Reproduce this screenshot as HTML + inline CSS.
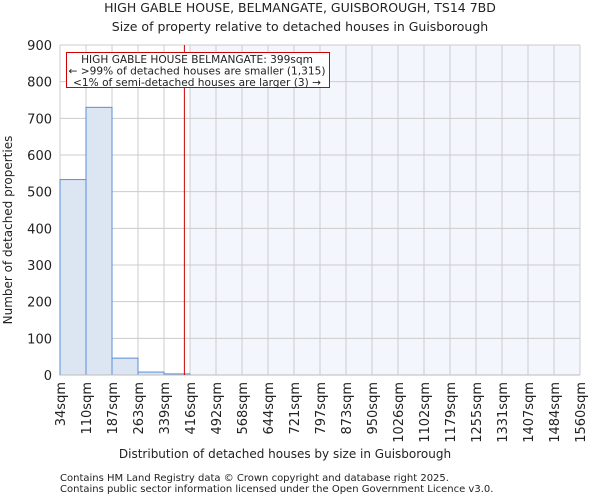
<!DOCTYPE html>
<html><head><meta charset="utf-8"><style>
body{margin:0;background:#fff;font-family:"DejaVu Sans","Liberation Sans",sans-serif;}
svg text{font-family:"DejaVu Sans","Liberation Sans",sans-serif;fill:#222;}
</style></head><body>
<svg id="chart" width="600" height="500">
<text x="300" y="12" font-size="12.5" text-anchor="middle">HIGH GABLE HOUSE, BELMANGATE, GUISBOROUGH, TS14 7BD</text>
<text x="300" y="31" font-size="12.5" text-anchor="middle">Size of property relative to detached houses in Guisborough</text>
<g id="plot"></g>
<text x="285" y="458" font-size="12" text-anchor="middle">Distribution of detached houses by size in Guisborough</text>
<text transform="translate(12,230) rotate(-90)" font-size="12" text-anchor="middle">Number of detached properties</text>
<text x="60" y="481" font-size="10">Contains HM Land Registry data © Crown copyright and database right 2025.</text>
<text x="60" y="492" font-size="10">Contains public sector information licensed under the Open Government Licence v3.0.</text>
</svg>
<script>
const binLabels=["34sqm","110sqm","187sqm","263sqm","339sqm","416sqm","492sqm","568sqm","644sqm","721sqm","797sqm","873sqm","950sqm","1026sqm","1102sqm","1179sqm","1255sqm","1331sqm","1407sqm","1484sqm","1560sqm"];
const counts=[533,730,46,8,3,0,0,0,0,0,0,0,0,0,0,0,0,0,0,0];
const yTicks=[0,100,200,300,400,500,600,700,800,900];
const propertySize=399;
const xMin=34,xMax=1560;
const L=60,R=580,T=45,B=375;
const nb=counts.length;
const xs=v=>L+(v-xMin)/(xMax-xMin)*(R-L);
const xi=i=>L+i*(R-L)/nb;
const ys=v=>B-v/900*(B-T);
const g=document.getElementById('plot');
const NS="http://www.w3.org/2000/svg";
function mk(t,a){const e=document.createElementNS(NS,t);for(const k in a)e.setAttribute(k,a[k]);g.appendChild(e);return e;}
const hb=Math.ceil((propertySize-xMin)/((xMax-xMin)/nb));
let e=mk('rect',{x:xi(hb),y:T,width:R-xi(hb),height:B-T,fill:'#f3f6fd'});


for(let i=0;i<=nb;i++){e=mk('line',{x1:xi(i),x2:xi(i),y1:T,y2:B,stroke:'#cccccc','stroke-width':1});

}
yTicks.forEach(v=>{e=mk('line',{x1:L,x2:R,y1:ys(v),y2:ys(v),stroke:'#cccccc','stroke-width':1});


e=mk('text',{x:L-8,y:ys(v)+5,'font-size':13,'text-anchor':'end'});e.textContent=v;

});
counts.forEach((c,i)=>{if(c<=0)return;e=mk('rect',{x:xi(i),y:ys(c),width:xi(i+1)-xi(i),height:B-ys(c),fill:'#dce6f3',stroke:'#5b8fd6','stroke-width':1});

});
e=mk('line',{x1:L,x2:R,y1:B,y2:B,stroke:'#bbbbbb','stroke-width':1});


binLabels.forEach((l,i)=>{const x=xi(i);e=mk('text',{transform:`translate(${x+5},382) rotate(-90)`,'font-size':13,'text-anchor':'end'});e.textContent=l;

});
const px=xs(propertySize);
e=mk('line',{x1:px,x2:px,y1:T,y2:B,stroke:'#cc0000','stroke-width':1});


e=mk('rect',{x:66.5,y:52.5,width:263,height:35,fill:'#fff',stroke:'#cc0000','stroke-width':1});


["HIGH GABLE HOUSE BELMANGATE: 399sqm","← >99% of detached houses are smaller (1,315)","<1% of semi-detached houses are larger (3) →"].forEach((t,k)=>{
e=mk('text',{x:197,y:63+k*11.5,'font-size':10.6,'text-anchor':'middle'});e.textContent=t;

});
</script>
</body></html>
